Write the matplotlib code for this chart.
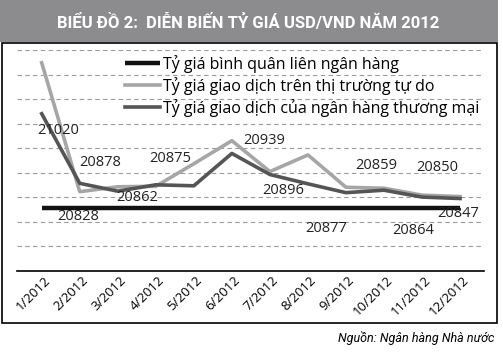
import matplotlib.pyplot as plt
from matplotlib.patches import Rectangle
import matplotlib.transforms as mtransforms

# data
months = ['1/2012', '2/2012', '3/2012', '4/2012', '5/2012', '6/2012',
          '7/2012', '8/2012', '9/2012', '10/2012', '11/2012', '12/2012']
interbank = [20828] * 12
free_market = [21124, 20861, 20871, 20872, 20918, 20965,
               20902, 20936, 20870, 20868, 20854, 20851]
commercial = [21020, 20878, 20862, 20875, 20873, 20939,
              20896, 20877, 20859, 20864, 20850, 20847]
series_names = ['Tỷ giá bình quân liên ngân hàng',
                'Tỷ giá giao dịch trên thị trường tự do',
                'Tỷ giá giao dịch của ngân hàng thương mại']
title = 'BIỂU ĐỒ 2:  DIỄN BIẾN TỶ GIÁ USD/VND NĂM 2012'
source = 'Nguồn: Ngân hàng Nhà nước'

W, H = 503, 360
FONT = ['Open Sans', 'DejaVu Sans']
NARROW = ['Roboto', 'DejaVu Sans']


def fx(px):
    return px / W


def fy(py):
    return 1 - py / H


fig = plt.figure(figsize=(W / 100, H / 100), dpi=100)

# title banner + frame
fig.patches.append(Rectangle((0, fy(42)), fx(498), 42 / H, transform=fig.transFigure,
                             facecolor='#8c8c8e', edgecolor='none', zorder=0))
fig.patches.append(Rectangle((fx(1.5), fy(323)), fx(495.5), 280 / H, transform=fig.transFigure,
                             facecolor='none', edgecolor='black', linewidth=1.2, zorder=0))
fig.text(fx(248), fy(22), title, color='white', fontsize=12, fontweight='bold',
         family=NARROW, ha='center', va='center')
fig.text(fx(494), fy(338), source, fontsize=9, style='italic',
         family=NARROW, ha='right', va='center')

ax = fig.add_axes([fx(17), 1 - 270.6 / H, fx(467), 220.6 / H])
x = list(range(len(months)))

l1, = ax.plot(x, interbank, color='#111111', lw=3.2, solid_capstyle='butt', zorder=3)
l2, = ax.plot(x, free_market, color='#a6a6a6', lw=2.6, zorder=2)
l3, = ax.plot(x, commercial, color='#555555', lw=2.6, zorder=2)

ax.set_xlim(-0.65, 11.63)
ax.set_ylim(20700, 21150)
ax.set_yticks(range(20750, 21151, 50))
ax.yaxis.grid(True, color='#9a9a9a', linestyle=(0, (4, 3)), linewidth=0.8)
ax.set_axisbelow(True)
ax.tick_params(axis='y', left=False, labelleft=False)
ax.tick_params(axis='x', length=0, pad=2)
for s in ['top', 'right', 'left']:
    ax.spines[s].set_visible(False)
ax.spines['bottom'].set_linewidth(1.2)

ax.set_xticks(x)
ax.set_xticklabels(months, rotation=45, ha='right', va='top', family=FONT, fontsize=9.5)
shift = mtransforms.ScaledTranslation(11 / 100, 0, fig.dpi_scale_trans)
for lab in ax.get_xticklabels():
    lab.set_transform(lab.get_transform() + shift)

# data labels on the commercial-bank series (offsets in pixels)
label_offsets = [(16, -17), (20, 21), (19, -6), (14, 26), None, (32, 13),
                 (13, -16), (18, -45), (30, 27), (29, -40), (15, 30), (-2, -15)]
for i, off in enumerate(label_offsets):
    if off is None:
        continue
    ax.annotate(str(commercial[i]), (i, commercial[i]), xytext=off, textcoords='offset pixels',
                ha='center', va='center', fontsize=10.5, family=FONT, color='#222222', zorder=5)
ax.annotate(str(interbank[1]), (1, interbank[1]), xytext=(-2, -9), textcoords='offset pixels',
            ha='center', va='center', fontsize=10.5, family=FONT, color='#222222', zorder=5)

fig.legend([l1, l2, l3], series_names, loc='upper left', bbox_to_anchor=(fx(125), fy(55)),
           frameon=False, prop={'family': FONT, 'size': 11.5}, handlelength=2.2,
           handletextpad=0.2, labelspacing=0.25, borderpad=0, borderaxespad=0)

fig.savefig('out.png', dpi=100)
